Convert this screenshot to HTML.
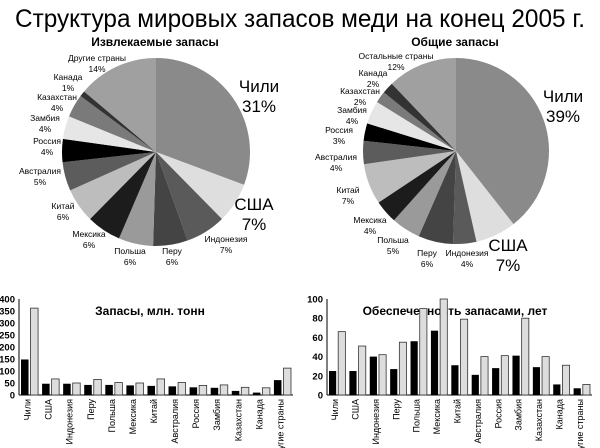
<!DOCTYPE html>
<html><head><meta charset="utf-8"><style>
html,body{margin:0;padding:0;background:#fff}
svg{display:block;font-family:"Liberation Sans",sans-serif}
</style></head><body>
<svg id="c" width="600" height="448" viewBox="0 0 600 448" xmlns="http://www.w3.org/2000/svg">
<text x="300" y="27" text-anchor="middle" font-size="25" textLength="570" lengthAdjust="spacingAndGlyphs">Структура мировых запасов меди на конец 2005 г.</text>
<text x="155" y="46" text-anchor="middle" font-size="12" font-weight="bold">Извлекаемые запасы</text>
<text x="455" y="46" text-anchor="middle" font-size="12" font-weight="bold">Общие запасы</text>
<text x="150" y="315" text-anchor="middle" font-size="12" font-weight="bold">Запасы, млн. тонн</text>
<text x="455" y="315" text-anchor="middle" font-size="12" font-weight="bold">Обеспеченность запасами, лет</text>
<g id="g"></g>
</svg>
<script>
const pieCats=["Чили","США","Индонезия","Перу","Польша","Мексика","Китай","Австралия","Россия","Замбия","Казахстан","Канада","Другие страны"];
const pieColors=["#8a8a8a","#dedede","#5a5a5a","#444","#9a9a9a","#1c1c1c","#bdbdbd","#5c5c5c","#000","#e6e6e6","#7a7a7a","#333","#a0a0a0"];
const pieLeft=[31,7,7,6,6,6,6,5,4,4,4,1,14];
const pieRight=[39,7,4,6,5,4,7,4,3,4,2,2,12];
const barCats=["Чили","США","Индонезия","Перу","Польша","Мексика","Китай","Австралия","Россия","Замбия","Казахстан","Канада","Другие страны"];
const resBlack=[148,47,47,42,42,40,38,36,32,30,17,10,62];
const resGray=[362,67,50,65,52,50,67,52,40,42,32,30,112];
const yrsBlack=[25,25,40,27,56,67,31,21,28,41,29,11,7];
const yrsGray=[66,51,42,55,90,100,79,40,41,80,40,31,11];
const resTicks=[0,50,100,150,200,250,300,350,400];
const yrsTicks=[0,20,40,60,80,100];
const NS="http://www.w3.org/2000/svg";
const G=document.getElementById("g");
function mk(t,a,p){const e=document.createElementNS(NS,t);for(const k in a)e.setAttribute(k,a[k]);(p||G).appendChild(e);return e;}
function pie(cx,cy,r,vals,name){
  const tot=vals.reduce((a,b)=>a+b,0);let a0=-Math.PI/2;
  vals.forEach((v,i)=>{
    const a1=a0+v/tot*2*Math.PI;
    const x0=cx+r*Math.cos(a0),y0=cy+r*Math.sin(a0),x1=cx+r*Math.cos(a1),y1=cy+r*Math.sin(a1);
    const e=mk("path",{d:`M${cx},${cy}L${x0},${y0}A${r},${r} 0 ${a1-a0>Math.PI?1:0} 1 ${x1},${y1}Z`,fill:pieColors[i]});
    
    
    a0=a1;
  });
}
pie(156,152,94,pieLeft,"left-pie");
pie(456,151,93,pieRight,"right-pie");
function lbl(x,y,t,p,fs){
  const e=mk("text",{x:x,y:y,"text-anchor":"middle","font-size":fs||8.5});
  e.textContent=t;
  
  
  const f=mk("text",{x:x,y:y+(fs?20:11),"text-anchor":"middle","font-size":fs||8.5});
  f.textContent=p;
  
  
}
const L=[[97,61],[68,80],[57,100],[45,121],[47,144],[40,174],[63,209],[89,237],[130,254],[172,254],[226,242]];
const Lk=[12,11,10,9,8,7,6,5,4,3,2];
const lNames=["Другие страны"];
Lk.forEach((k,j)=>lbl(L[j][0],L[j][1],k===12?"Другие страны":pieCats[k],pieLeft[k]+"%"));
lbl(259,92,"Чили",pieLeft[0]+"%",17);lbl(254,210,"США",pieLeft[1]+"%",17);
const R=[[396,59],[373,76],[360,94],[352,113],[339,133],[336,160],[348,193],[370,223],[393,243],[427,256],[467,256]];
Lk.forEach((k,j)=>lbl(R[j][0],R[j][1],k===12?"Остальные страны":pieCats[k],pieRight[k]+"%"));
lbl(563,102,"Чили",pieRight[0]+"%",17);lbl(508,251,"США",pieRight[1]+"%",17);
function bars(x0,x1,y0,y1,max,ticks,b,g,name){
  const ys=v=>y0-(v/max)*(y0-y1);const n=barCats.length;const step=(x1-x0)/n;
  mk("line",{x1:x0,y1:y1,x2:x0,y2:y0,stroke:"#000"});
  mk("line",{x1:x0,y1:y0,x2:x1,y2:y0,stroke:"#000"});
  ticks.forEach(t=>{const e=mk("text",{x:x0-4,y:ys(t)+3.5,"text-anchor":"end","font-size":9.5,"font-weight":"bold"});e.textContent=t;
    
    });
  barCats.forEach((c,i)=>{
    const gx=x0+i*step+2;const w=(step-6)/2;
    const r1=mk("rect",{x:gx,y:ys(b[i]),width:w,height:y0-ys(b[i]),fill:"#000"});
    
    
    const r2=mk("rect",{x:gx+w+2,y:ys(g[i]),width:w,height:y0-ys(g[i]),fill:"#ddd",stroke:"#333","stroke-width":0.8});
    
    
    const tx=gx+step/2-1;
    const t=mk("text",{x:tx,y:399,"text-anchor":"end","font-size":9,transform:`rotate(-90 ${tx} 399)`});
    t.textContent=c;
    
    
  });
}
bars(19,293,395,299,400,resTicks,resBlack,resGray,"reserves");
bars(327,592,395,299,100,yrsTicks,yrsBlack,yrsGray,"years");
</script>
</body></html>
